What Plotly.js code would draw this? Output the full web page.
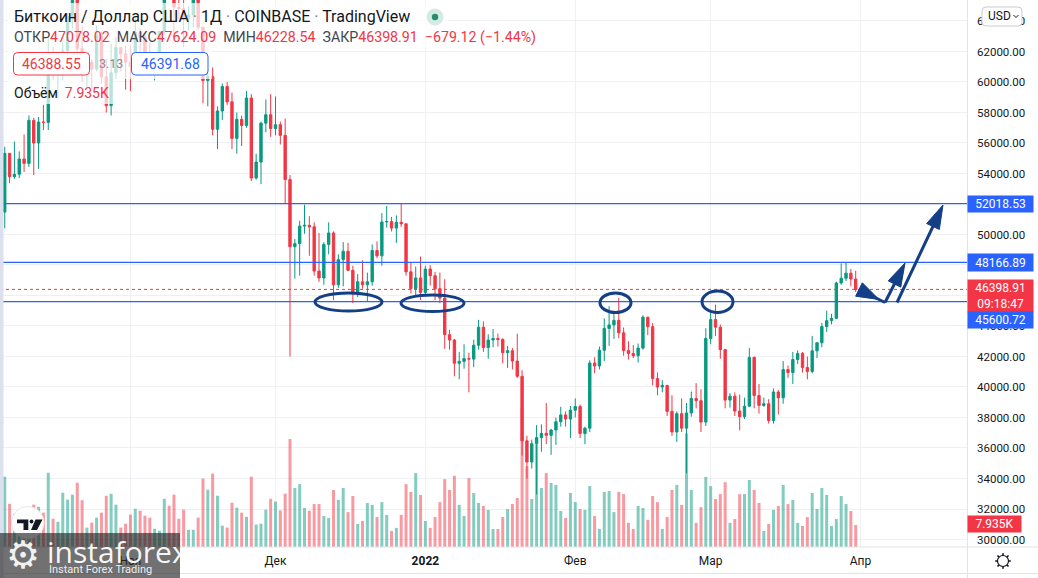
<!DOCTYPE html>
<html><head><meta charset="utf-8">
<script src="https://cdn.plot.ly/plotly-3.0.1.min.js"></script>
<style>html,body{margin:0;padding:0;background:#fff;overflow:hidden}#chart{width:1038px;height:578px}</style>
</head><body><div id="chart"></div>
<script>
// ---------------- DATA ----------------
const startDate = '2021-10-05';   // first daily candle, one per day to 2022-03-31
const open = [
49220,51470,55320,53790,53950,54950,54660,57480,56000,57370,57350,61670,60870,61530,62040,64280,66000,62200,60690,61300,60850,63080,60330,58450,60600,62250,61850,
61300,61000,63250,62930,61400,61000,61500,63300,67550,66950,64900,64800,64150,64400,65500,63600,60100,60350,56900,58100,59700,58700,56300,57550,57150,58950,53700,54750,57300,57850,
56950,57200,56500,53600,49200,49400,50550,50600,50500,47600,47150,49350,50100,46700,48350,48900,47650,46200,46900,46700,46900,48950,48600,50820,50850,50420,50800,50700,47550,46450,47150,
46200,47730,47300,46440,45830,43430,43080,41560,41680,41860,41830,42740,43920,42590,43080,43180,43110,42250,42380,41700,40700,36470,35080,36280,36680,36960,36830,37180,37720,38170,37900,
38480,38720,36950,37300,41570,41380,42410,43840,44070,44370,43550,42400,42200,42050,42550,44580,43950,40550,40000,40100,38400,37050,38250,37300,38300,39250,39100,37700,
43180,44420,43920,42450,39140,39400,38420,38060,38740,41940,39440,38790,38900,37800,39670,39290,41140,40950,41800,42200,41280,41020,42370,42900,43960,44350,44500,46820,47130,47460,47078.02];
const high = [
51900,55750,55330,56100,55450,56550,57800,57650,57700,58500,62900,62300,61700,62650,64500,67000,66650,63700,61750,61500,63700,63300,61500,62500,62950,62300,62400,
62400,64250,63500,63100,62600,61550,63300,67800,68550,69000,65600,65450,64950,65500,66300,63600,60800,60950,58400,59900,60000,59300,58000,57800,59400,59200,55300,57400,58850,59200,
59050,57400,57600,53900,49700,50900,51950,51200,50800,50100,49500,50800,50200,48700,49500,49450,47950,47400,48300,47500,49350,49550,51400,51870,51150,51250,52050,50700,48150,47900,48550,
47950,47990,47550,47500,47070,43750,43150,42300,42800,42250,43100,44400,44300,43450,43800,43500,43200,42700,42550,43500,41100,36800,36550,37500,37550,38950,37250,38000,38700,38400,38750,
39250,38850,37400,41750,41950,42650,44500,45300,44800,45850,43900,43000,42750,42850,44700,44600,44200,40950,40450,40150,39450,38400,39250,38950,39700,40250,39850,43850,
44950,45400,44100,42500,39600,39650,39500,39300,42550,42000,40200,39300,39200,39900,39800,41700,41400,42300,42400,42300,42000,43350,42900,44200,45000,44800,46900,48100,48200,47740,47624.09];
const low = [
49050,50400,53360,53650,53700,54100,54420,53900,54300,56850,56850,60150,58970,60100,61350,63500,62000,60000,59700,59550,60700,59900,58000,57800,60200,60700,59500,
59400,60700,60400,60700,60800,60100,61350,63100,66300,62800,64100,62300,63400,63600,63400,58600,58400,56500,55600,57500,58500,55600,55300,55800,57000,53500,53600,53300,56700,56400,
56500,55900,52000,42000,47100,47300,50050,48600,47300,46900,46700,48700,45700,46500,46600,47600,45500,45900,46450,45600,46650,48450,47950,50450,50200,49450,50500,47300,46150,45950,45700,
46000,46650,45700,45500,42500,42450,40700,40500,41200,39650,41300,42450,42300,41850,42600,42650,41550,41250,41150,40600,35500,34000,34650,32950,35750,36250,35550,36200,37400,37400,36650,
38000,36650,36250,37050,40900,41150,41700,42700,43150,43200,42050,41800,41900,41600,42450,43400,40100,39450,39650,38100,36800,36400,37050,34350,38050,38600,37050,37450,
42800,43350,41850,38600,38650,38100,37150,37900,38700,38600,38250,38700,37600,37600,38200,38900,40600,40200,41500,40950,40500,40900,41900,42600,43600,44100,44450,46700,46950,46600,46228.54];
const close = [
51470,55320,53790,53950,54950,54660,57480,56000,57370,57350,61670,60870,61530,62040,64280,66000,62200,60690,61300,60850,63080,60330,58450,60600,62250,61850,61300,
61000,63250,62930,61400,61000,61500,63300,67550,66950,64900,64800,64150,64400,65500,63600,60100,60350,56900,58100,59700,58700,56300,57550,57150,58950,53700,54750,57300,57850,56950,
57200,56500,53600,49200,49400,50550,50600,50500,47600,47150,49350,50100,46700,48350,48900,47650,46200,46900,46700,46900,48950,48600,50820,50850,50420,50800,50700,47550,46450,47150,46200,
47730,47300,46440,45830,43430,43080,41560,41680,41860,41830,42740,43920,42590,43080,43180,43110,42250,42380,41700,40700,36470,35080,36280,36680,36960,36830,37180,37720,38170,37900,38480,
38720,36950,37300,41570,41380,42410,43840,44070,44370,43550,42400,42200,42050,42550,44580,43950,40550,40000,40100,38400,37050,38250,37300,38300,39250,39100,37700,43180,
44420,43920,42450,39140,39400,38420,38060,38740,41940,39440,38790,38900,37800,39670,39290,41140,40950,41800,42200,41280,41020,42370,42900,43960,44350,44500,46820,47130,47460,47080,46398.91];
const volumeK = [
18,25.4,15.6,12,8,9,13,15.3,14.5,12.4,26.8,10.2,9.1,19.6,17.1,18.9,23.2,16.9,7.0,8.8,10.6,12.4,18.5,19.2,15.3,7.0,8.4,
11.7,13.8,13.1,11.3,10.6,6.6,5.9,17.4,14.9,18.9,10.2,13.5,6.2,6.2,10.6,24.7,20.7,26.5,18.5,7.7,7.0,16.0,14.2,12.4,10.9,25.4,8.1,8.4,13.5,17.4,
16.4,13.2,19.3,39,21.3,22.7,14.1,13.1,15.5,15.5,11.2,10.5,20.6,17.0,21.3,12.6,18.4,8.3,9.4,15.9,15.2,10.8,16.2,11.6,5.8,6.9,11.6,22.7,19.9,26.7,18.8,
9.4,6.9,10.8,16.2,24.5,20.6,25.7,15.2,11.2,24.9,19.5,15.9,14.8,13.4,6.5,6.5,10.8,13.7,15.5,17.7,50,29.2,17.3,37,21.3,26.7,23.1,22.4,13,10.5,19.5,
16.2,13.7,13.4,22,11.2,6.5,19.9,20.2,12.6,19.9,19.1,8.7,6.5,14.8,14.1,9.8,18.4,16.2,6.5,10.8,20.6,22.4,15.2,41,20.6,8.7,14.4,25.3,
22,17.3,19.1,23.4,8.7,10.1,19.1,19.1,24.2,20.6,15.9,5.8,8.3,13.4,14.8,22.4,15.5,17,8.7,7.6,10.8,19.5,13.7,21.3,18.8,7.6,10.1,18.4,15.5,13,7.935];
const priceTicks = [30000,32000,34000,36000,38000,40000,42000,44000,46000,48000,50000,52000,54000,56000,58000,60000,62000,64000];
// labels hidden behind the coloured price tags are left blank
const priceLabels = ['30000.00','32000.00','34000.00','36000.00','38000.00','40000.00','42000.00','44000.00','','','50000.00','','54000.00','56000.00','58000.00','60000.00','62000.00','64000.00'];
const monthTicks = ['2021-11-01','2021-12-01','2022-01-01','2022-02-01','2022-03-01','2022-04-01'];
const monthLabels = ['Ноя','Дек','<b>2022</b>','Фев','Мар','Апр'];
const levels = [52018.53, 48166.89, 45600.72];
const lastPrice = 46398.91;

// ---------------- BUILD ----------------
const dates = [];
{
  const d0 = new Date(startDate + 'T00:00:00Z');
  for (let i = 0; i < close.length; i++) {
    const d = new Date(d0.getTime() + i * 86400000);
    dates.push(d.toISOString().slice(0, 10));
  }
}
const UP = '#089981', DN = '#f23645', BLUE = '#2962ff', NAVY = '#143f86';
const volColors = close.map((c, i) => c >= open[i] ? 'rgba(8,153,129,0.5)' : 'rgba(242,54,69,0.5)');

const W = 967, H = 547;
const px = v => v / W, py = v => 1 - v / H;
const P = (x, y) => px(x) + ',' + py(y);
function rrect(x0, y0, x1, y1, r) {
  return 'M' + P(x0 + r, y0) + ' L' + P(x1 - r, y0) + ' Q' + P(x1, y0) + ' ' + P(x1, y0 + r) +
    ' L' + P(x1, y1 - r) + ' Q' + P(x1, y1) + ' ' + P(x1 - r, y1) +
    ' L' + P(x0 + r, y1) + ' Q' + P(x0, y1) + ' ' + P(x0, y1 - r) +
    ' L' + P(x0, y0 + r) + ' Q' + P(x0, y0) + ' ' + P(x0 + r, y0) + ' Z';
}
function arrowHead(tx, ty, bx, by, hw) {
  const dx = tx - bx, dy = ty - by, L = Math.hypot(dx, dy);
  const nx = -dy / L * hw, ny = dx / L * hw;
  return 'M' + P(tx, ty) + ' L' + P(bx + nx, by + ny) + ' L' + P(bx - nx, by - ny) + ' Z';
}
const pa = {xref: 'paper', yref: 'paper'};

const shapes = [];
levels.forEach(l => shapes.push({type: 'line', xref: 'paper', yref: 'y2', x0: 0, x1: 1, y0: l, y1: l, line: {color: BLUE, width: 1.2}, layer: 'above'}));
shapes.push({type: 'line', xref: 'paper', yref: 'y2', x0: 0, x1: 1, y0: lastPrice, y1: lastPrice, line: {color: DN, width: 1, dash: 'dot'}, layer: 'above'});
[[315, 293, 382, 311], [401, 295, 464, 311.5], [600, 293, 631, 312.5], [702, 291, 733, 312.5]].forEach(e =>
  shapes.push(Object.assign({type: 'circle', x0: px(e[0]), x1: px(e[2]), y0: py(e[1]), y1: py(e[3]), line: {color: NAVY, width: 3}, layer: 'above'}, pa)));
shapes.push(Object.assign({type: 'path', path: 'M' + P(868, 294) + ' L' + P(885, 302.5), line: {color: NAVY, width: 3}, layer: 'above'}, pa));
shapes.push(Object.assign({type: 'path', path: arrowHead(879, 299.5, 859, 289.5, 7.5), fillcolor: NAVY, line: {color: NAVY, width: 1}, layer: 'above'}, pa));
shapes.push(Object.assign({type: 'path', path: 'M' + P(885, 302.5) + ' L' + P(898, 277), line: {color: NAVY, width: 3}, layer: 'above'}, pa));
shapes.push(Object.assign({type: 'path', path: arrowHead(905, 263, 894.5, 284, 7), fillcolor: NAVY, line: {color: NAVY, width: 1}, layer: 'above'}, pa));
shapes.push(Object.assign({type: 'path', path: 'M' + P(897, 302.5) + ' L' + P(936, 220), line: {color: NAVY, width: 3}, layer: 'above'}, pa));
shapes.push(Object.assign({type: 'path', path: arrowHead(943, 205, 933, 226.5, 7), fillcolor: NAVY, line: {color: NAVY, width: 1}, layer: 'above'}, pa));
// legend fade backgrounds
[[8, 3, 448, 29], [8, 29, 545, 48], [8, 48, 212, 79], [8, 79, 113, 104]].forEach(r =>
  shapes.push(Object.assign({type: 'rect', x0: px(r[0]), x1: px(r[2]), y0: py(r[1]), y1: py(r[3]), fillcolor: 'rgba(255,255,255,0.72)', line: {width: 0}, layer: 'above'}, pa)));
shapes.push(Object.assign({type: 'circle', x0: px(426.5), x1: px(443.5), y0: py(8.5), y1: py(25.5), fillcolor: '#d3ebe4', line: {width: 0}, layer: 'above'}, pa));
shapes.push(Object.assign({type: 'circle', x0: px(431.8), x1: px(438.2), y0: py(13.8), y1: py(20.2), fillcolor: '#2a8c6d', line: {width: 0}, layer: 'above'}, pa));
shapes.push(Object.assign({type: 'path', path: rrect(13.5, 52.5, 89.5, 75, 4), fillcolor: '#fff', line: {color: DN, width: 1}, layer: 'above'}, pa));
shapes.push(Object.assign({type: 'path', path: rrect(131.5, 52.5, 208, 75, 4), fillcolor: '#fff', line: {color: BLUE, width: 1}, layer: 'above'}, pa));
// frame lines
shapes.push(Object.assign({type: 'line', x0: 0, x1: px(1038), y0: py(547), y1: py(547), line: {color: '#e0e3eb', width: 1}, layer: 'above'}, pa));
shapes.push(Object.assign({type: 'line', x0: 0, x1: px(1038), y0: py(573.5), y1: py(573.5), line: {color: '#e0e3eb', width: 1}, layer: 'above'}, pa));
shapes.push(Object.assign({type: 'line', x0: px(967.5), x1: px(967.5), y0: py(0), y1: py(578), line: {color: '#e0e3eb', width: 1}, layer: 'above'}, pa));
shapes.push(Object.assign({type: 'rect', x0: 0, x1: px(3.5), y0: py(0), y1: py(578), fillcolor: '#dde0ee', line: {width: 0}, layer: 'above'}, pa));
// USD button
shapes.push(Object.assign({type: 'path', path: rrect(982, 7, 1022, 26, 4), fillcolor: '#fff', line: {color: '#c9ccd4', width: 1}, layer: 'above'}, pa));
shapes.push(Object.assign({type: 'path', path: 'M' + P(1013.5, 15) + ' L' + P(1016, 17.5) + ' L' + P(1018.5, 15), line: {color: '#131722', width: 1}, layer: 'above'}, pa));
// settings gear
shapes.push(Object.assign({type: 'circle', x0: px(997.5), x1: px(1008.5), y0: py(555.5), y1: py(566.5), line: {color: '#131722', width: 1.2}, layer: 'above'}, pa));
{
  let p = '';
  for (let k = 0; k < 8; k++) {
    const a = k * Math.PI / 4, c = Math.cos(a), s = Math.sin(a);
    p += 'M' + P(1003 + 5.5 * c, 561 + 5.5 * s) + ' L' + P(1003 + 7.8 * c, 561 + 7.8 * s) + ' ';
  }
  shapes.push(Object.assign({type: 'path', path: p, line: {color: '#131722', width: 1.6}, layer: 'above'}, pa));
}
// TradingView badge
shapes.push(Object.assign({type: 'circle', x0: px(11.5), x1: px(44), y0: py(506.5), y1: py(539), fillcolor: 'rgba(255,255,255,0.95)', line: {color: '#e6e8ee', width: 1}, layer: 'above'}, pa));
shapes.push(Object.assign({type: 'path', path: 'M' + P(17, 519.5) + ' L' + P(28.3, 519.5) + ' L' + P(28.3, 530) + ' L' + P(23.5, 530) + ' L' + P(23.5, 523.3) + ' L' + P(17, 523.3) + ' Z', fillcolor: '#131722', line: {width: 0}, layer: 'above'}, pa));
shapes.push(Object.assign({type: 'circle', x0: px(29.6), x1: px(33.4), y0: py(519.6), y1: py(523.4), fillcolor: '#131722', line: {width: 0}, layer: 'above'}, pa));
shapes.push(Object.assign({type: 'path', path: 'M' + P(35.5, 519.5) + ' L' + P(42.5, 519.5) + ' L' + P(37, 530) + ' L' + P(31, 530) + ' Z', fillcolor: '#131722', line: {width: 0}, layer: 'above'}, pa));
// instaforex watermark box
shapes.push(Object.assign({type: 'rect', x0: 0, x1: px(180), y0: py(533), y1: py(578), fillcolor: 'rgba(40,40,40,0.66)', line: {width: 0}, layer: 'above'}, pa));

const F = 'Roboto, "Noto Sans", sans-serif';
const ann = (o) => Object.assign({xref: 'paper', yref: 'paper', showarrow: false, xanchor: 'left', yanchor: 'middle', font: {family: F, size: 13, color: '#131722'}}, o);
const R = s => '<span style="color:#f23645">' + s + '</span>';
const annotations = [
  ann({x: px(12), y: py(17), font: {family: F, size: 16, color: '#131722'},
    text: 'Биткоин / Доллар США <span style="color:#787b86">·</span> 1Д <span style="color:#787b86">·</span> COINBASE <span style="color:#787b86">·</span> TradingView'}),
  ann({x: px(12), y: py(38), font: {family: F, size: 14.2, color: '#434651'},
    text: 'ОТКР' + R('47078.02') + '\u00a0 МАКС' + R('47624.09') + '\u00a0 МИН' + R('46228.54') + '\u00a0 ЗАКР' + R('46398.91') + '\u00a0 ' + R('−679.12 (−1.44%)')}),
  ann({x: px(51.5), y: py(64), xanchor: 'center', font: {family: F, size: 14, color: DN}, text: '46388.55'}),
  ann({x: px(110.5), y: py(64), xanchor: 'center', font: {family: F, size: 12.5, color: '#8a8d96'}, text: '3.13'}),
  ann({x: px(170), y: py(64), xanchor: 'center', font: {family: F, size: 14, color: BLUE}, text: '46391.68'}),
  ann({x: px(12), y: py(93), font: {family: F, size: 14, color: '#131722'}, text: 'Объём\u00a0 ' + R('7.935K')}),
  ann({x: 1, y: levels[0], yref: 'y2', width: 65, height: 16, borderpad: 0, align: 'center', bgcolor: BLUE, font: {family: F, size: 12, color: '#fff'}, text: '52018.53'}),
  ann({x: 1, y: levels[1], yref: 'y2', width: 65, height: 17, borderpad: 0, align: 'center', bgcolor: BLUE, font: {family: F, size: 12, color: '#fff'}, text: '48166.89'}),
  ann({x: 1, y: py(296), width: 65, height: 32, borderpad: 0, align: 'center', bgcolor: DN, font: {family: F, size: 12, color: '#fff'}, text: '46398.91<br>09:18:47'}),
  ann({x: 1, y: py(320), width: 65, height: 16, borderpad: 0, align: 'center', bgcolor: BLUE, font: {family: F, size: 12, color: '#fff'}, text: '45600.72'}),
  ann({x: 1, y: py(524), width: 53, height: 16, borderpad: 0, align: 'center', bgcolor: DN, font: {family: F, size: 12, color: '#fff'}, text: '7.935K'}),
  ann({x: px(986), y: py(16.5), font: {family: F, size: 12, color: '#131722'}, text: 'USD'}),
  ann({x: px(4), y: py(555), font: {family: 'DejaVu Sans', size: 38, color: 'rgba(255,255,255,0.92)'}, text: '⚙'}),
  ann({x: px(45), y: py(551), font: {family: '"Open Sans", sans-serif', size: 30, color: 'rgba(255,255,255,0.95)'}, text: 'instaforex'}),
  ann({x: px(47), y: py(569.5), font: {family: F, size: 11, color: 'rgba(255,255,255,0.9)'}, text: 'Instant Forex Trading'})
];

const traces = [
  {type: 'bar', x: dates, y: volumeK, marker: {color: volColors, line: {width: 0}}, width: 0.62 * 86400000, xaxis: 'x', yaxis: 'y', hoverinfo: 'skip'},
  {type: 'candlestick', x: dates, open: open, high: high, low: low, close: close, xaxis: 'x', yaxis: 'y2',
    increasing: {line: {color: UP, width: 1}, fillcolor: UP},
    decreasing: {line: {color: DN, width: 1}, fillcolor: DN},
    whiskerwidth: 0, hoverinfo: 'skip'}
];

const layout = {
  width: 1038, height: 578,
  margin: {l: 0, r: 71, t: 0, b: 31},
  paper_bgcolor: '#fff', plot_bgcolor: '#fff',
  showlegend: false, dragmode: false, hovermode: false,
  xaxis: {type: 'date', range: ['2021-10-05 00:29', '2022-04-23 00:29'], tickvals: monthTicks, ticktext: monthLabels,
    showgrid: true, gridcolor: '#eef0f4', gridwidth: 1, ticks: '', showline: false, zeroline: false,
    tickfont: {family: F, size: 12, color: '#131722'}, ticklabelstandoff: 5, rangeslider: {visible: false}, fixedrange: true},
  yaxis: {range: [0, 197.5], visible: false, showgrid: false, fixedrange: true},
  yaxis2: {overlaying: 'y', side: 'right', range: [29508, 65375], tickvals: priceTicks, ticktext: priceLabels,
    showgrid: true, gridcolor: '#eef0f4', gridwidth: 1, zeroline: false, showline: false, ticks: '',
    tickfont: {family: F, size: 11.5, color: '#131722'}, ticklabelstandoff: 9, fixedrange: true},
  shapes: shapes,
  annotations: annotations
};
Plotly.newPlot('chart', traces, layout, {staticPlot: true, displayModeBar: false});
</script></body></html>
